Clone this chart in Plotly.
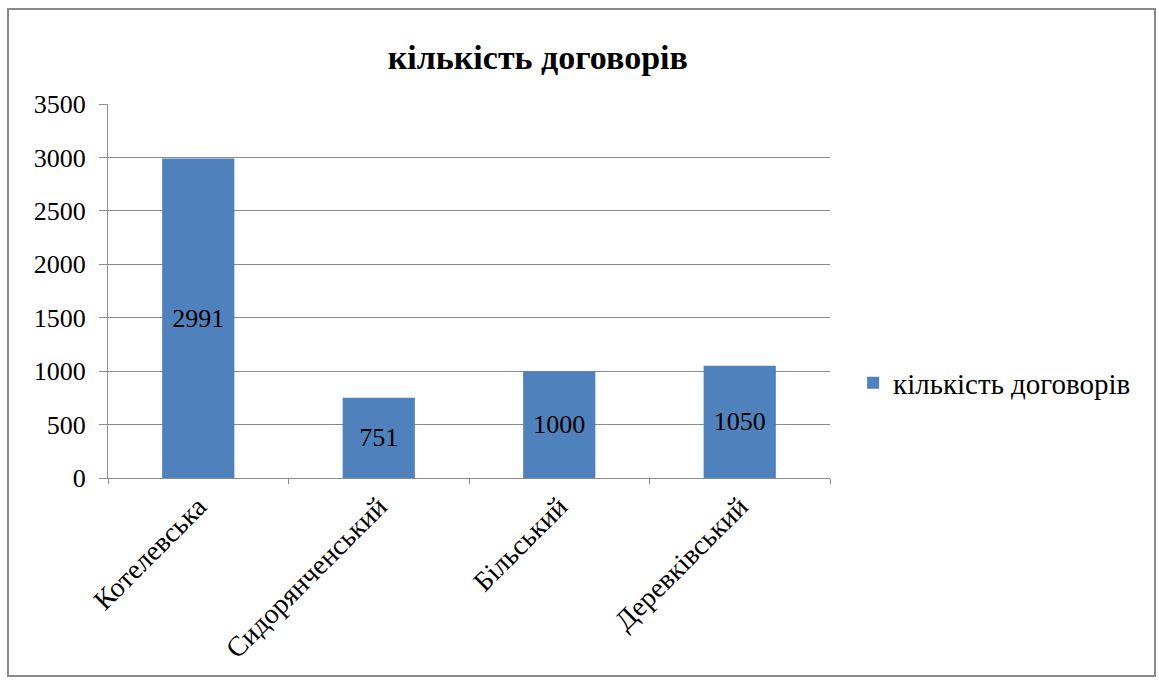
import plotly.graph_objects as go

# Contract counts per district
districts = ["Котелевська", "Сидорянченський", "Більський", "Деревківський"]
contracts = [2991, 751, 1000, 1050]
series_name = "кількість договорів"
y_ticks = [0, 500, 1000, 1500, 2000, 2500, 3000, 3500]

FONT = "Times New Roman, Liberation Serif, serif"
BAR = "#4F81BD"
GRID = "#8C8C8C"
TXT = 26

fig = go.Figure()
fig.add_trace(go.Bar(
    x=districts,
    y=contracts,
    name=series_name,
    marker=dict(color=BAR, line=dict(width=0)),
    width=0.4,
    text=[str(v) for v in contracts],
    textposition="inside",
    insidetextanchor="middle",
    textfont=dict(family=FONT, size=TXT, color="#000000"),
    showlegend=True,
))

fig.update_layout(
    width=1159, height=680,
    margin=dict(l=108, r=329, t=104, b=202),
    paper_bgcolor="white",
    plot_bgcolor="white",
    font=dict(family=FONT, size=TXT, color="#000000"),
    title=dict(
        text="<b>кількість договорів</b>",
        x=0.464, xanchor="center", xref="container",
        y=1 - 57 / 680, yanchor="middle", yref="container",
        font=dict(family=FONT, size=34, color="#000000"),
    ),
    showlegend=True,
    legend=dict(
        x=1.032, xanchor="left", y=0.254, yanchor="middle",
        font=dict(family=FONT, size=29, color="#000000"),
        bgcolor="rgba(0,0,0,0)",
        itemwidth=30,
    ),
    bargap=0.6,
)

fig.update_yaxes(
    range=[0, 3500],
    tickvals=y_ticks,
    showgrid=True, gridcolor=GRID, gridwidth=1,
    showline=True, linecolor=GRID, linewidth=1,
    ticks="outside", ticklen=8, tickcolor=GRID,
    ticklabelstandoff=8,
    tickfont=dict(family=FONT, size=TXT, color="#000000"),
    zeroline=False,
)
fig.update_xaxes(
    showline=True, linecolor=GRID, linewidth=1,
    ticks="outside", ticklen=5, tickcolor=GRID,
    tickson="boundaries",
    tickangle=-45,
    tickfont=dict(family=FONT, size=28, color="#000000"),
)

# Outer chart frame
fig.add_shape(
    type="rect", xref="paper", yref="paper",
    x0=(8 - 108) / 722, x1=(1155 - 108) / 722,
    y0=(478 - 676) / 374, y1=(478 - 9) / 374,
    line=dict(color="#8A8A8A", width=2),
    fillcolor="rgba(0,0,0,0)",
    layer="below",
)

fig.write_html("out.html")
